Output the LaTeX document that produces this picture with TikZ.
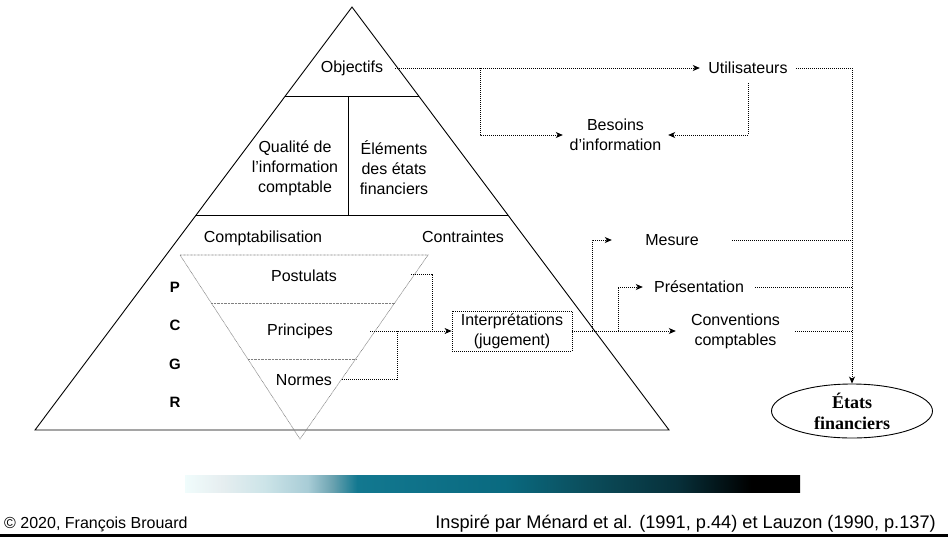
\documentclass[tikz,border=0pt]{standalone}
\usepackage{fontspec}
\setmainfont{Liberation Sans}
\newfontfamily\timesf{Liberation Serif}
\usetikzlibrary{arrows.meta,shapes.geometric}
\definecolor{g0}{HTML}{F0FCFC}
\definecolor{g1}{HTML}{E6EEF0}
\definecolor{g2}{HTML}{CCE4E8}
\definecolor{g3}{HTML}{A8CCD6}
\definecolor{g3b}{HTML}{6AA2B0}
\definecolor{g4}{HTML}{127890}
\definecolor{g5}{HTML}{0A6A80}
\definecolor{g6}{HTML}{0B4C5A}
\definecolor{g7}{HTML}{07303A}
\pgfdeclarehorizontalshading{barshade}{100bp}{color(0bp)=(g0); color(25bp)=(g0); color(28bp)=(g1); color(31.5bp)=(g2); color(35bp)=(g3); color(37bp)=(g3b); color(39bp)=(g4); color(51bp)=(g5); color(58bp)=(g6); color(65bp)=(g7); color(71bp)=(black); color(100bp)=(black)}
\tikzset{
  pyr/.style={line width=0.9pt},
  inv/.style={gray, line width=0.6pt, dash pattern=on 0.8pt off 0.6pt},
  dl/.style={line width=0.8pt, dash pattern=on 1pt off 1pt},
  arr/.style={-{Stealth[length=7pt,width=6pt,inset=2pt]}},
  lbl/.style={inner sep=0pt, align=center},
  pcgr/.style={inner sep=0pt, font=\fontsize{15}{17}\selectfont\bfseries},
}
\begin{document}
\begin{tikzpicture}[x=1pt,y=-1pt,font=\fontsize{16}{20}\selectfont]
\useasboundingbox (0,0) rectangle (948,542);
% pyramid
\draw[pyr] (352,7) -- (669,430) -- (35,430) -- cycle;
\draw[pyr] (285,96) -- (419,96);
\draw[pyr] (196,215) -- (508,215);
\draw[pyr] (348,96) -- (348,215);
% inverted triangle
\draw[inv] (180,255) -- (428,255) -- (300,439) -- cycle;
\draw[inv] (211,303) -- (395,303);
\draw[inv] (248,359) -- (356,359);
% labels inside
\node[lbl] (obj) at (352,68) {Objectifs};
\node[lbl] (qual) at (295,168) {Qualité de\\l’information\\comptable};
\node[lbl] (elem) at (394,168) {Éléments\\des états\\financiers};
\node[lbl] (compta) at (263,238) {Comptabilisation};
\node[lbl] (contr) at (463,237) {Contraintes};
\node[pcgr] (lp) at (175,287) {P};
\node[pcgr] (lc) at (175,325) {C};
\node[pcgr] (lg) at (175,364) {G};
\node[pcgr] (lr) at (175,402) {R};
\node[lbl] (post) at (304,276) {Postulats};
\node[lbl] (princ) at (300,331) {Principes};
\node[lbl] (norm) at (304,380) {Normes};
\node[lbl, draw, dl, minimum width=120pt, minimum height=40pt] (interp) at (512,331) {Interprétations\\(jugement)};
% right side labels
\node[lbl, minimum width=105pt] (bes) at (615.5,135) {Besoins\\d’information};
\node[lbl, minimum width=96pt] (util) at (748,68) {Utilisateurs};
\node[lbl, minimum width=120pt] (mes) at (672,240) {Mesure};
\node[lbl, minimum width=112pt] (pres) at (699,287) {Présentation};
\node[lbl, minimum width=119pt] (conv) at (735.5,331) {Conventions\\comptables};
\node[draw, ellipse, line width=0.9pt, minimum width=161pt, minimum height=54pt, inner sep=0pt, align=center, font=\timesf\bfseries\fontsize{18}{21}\selectfont] (ef) at (852,411) {États\\financiers};
% junction coordinates
\coordinate (rc) at (852,68);
\coordinate (ob) at (480,68);
\coordinate (jp) at (432,331);
\coordinate (jn) at (397,331);
\coordinate (bm) at (592,331);
\coordinate (bp) at (618,331);
% connectors top
\draw[dl,arr] ([xshift=12pt]obj.east) -- (util.west);
\draw[dl,arr] (ob) |- (bes.west);
\draw[dl,arr] ([yshift=-9pt]util.south) |- (bes.east);
\draw[dl] (util.east) -- (rc);
% connectors middle
\draw[dl] ([xshift=74pt,yshift=2pt]post.east) -| (jp);
\draw[dl,arr] ([xshift=37pt]princ.east) -- (interp.west);
\draw[dl] ([xshift=10pt,yshift=1pt]norm.east) -| (jn);
\draw[dl,arr] (interp.east) -- (conv.west);
\draw[dl,arr] (bm) |- (mes.west);
\draw[dl,arr] (bp) |- (pres.west);
\draw[dl] (mes.east) -- (mes.east -| rc);
\draw[dl] (pres.east) -- (pres.east -| rc);
\draw[dl] (conv.east) -- (conv.east -| rc);
\draw[dl,arr] (rc) -- (ef.north);
% gradient bar
\shade[shading=barshade] (185,475) rectangle (800,492);
% footer
\node[anchor=west, inner sep=0pt, font=\fontsize{16}{18}\selectfont] (copy) at (4,524) {© 2020, François Brouard};
\node[anchor=east, inner sep=0pt, font=\fontsize{18.2}{20}\selectfont] (insp) at (936,524) {Inspiré par Ménard et al. (1991, p.44) et Lauzon (1990, p.137)};
\draw[line width=3pt] (0,535) -- (948,535);
\end{tikzpicture}
\end{document}
